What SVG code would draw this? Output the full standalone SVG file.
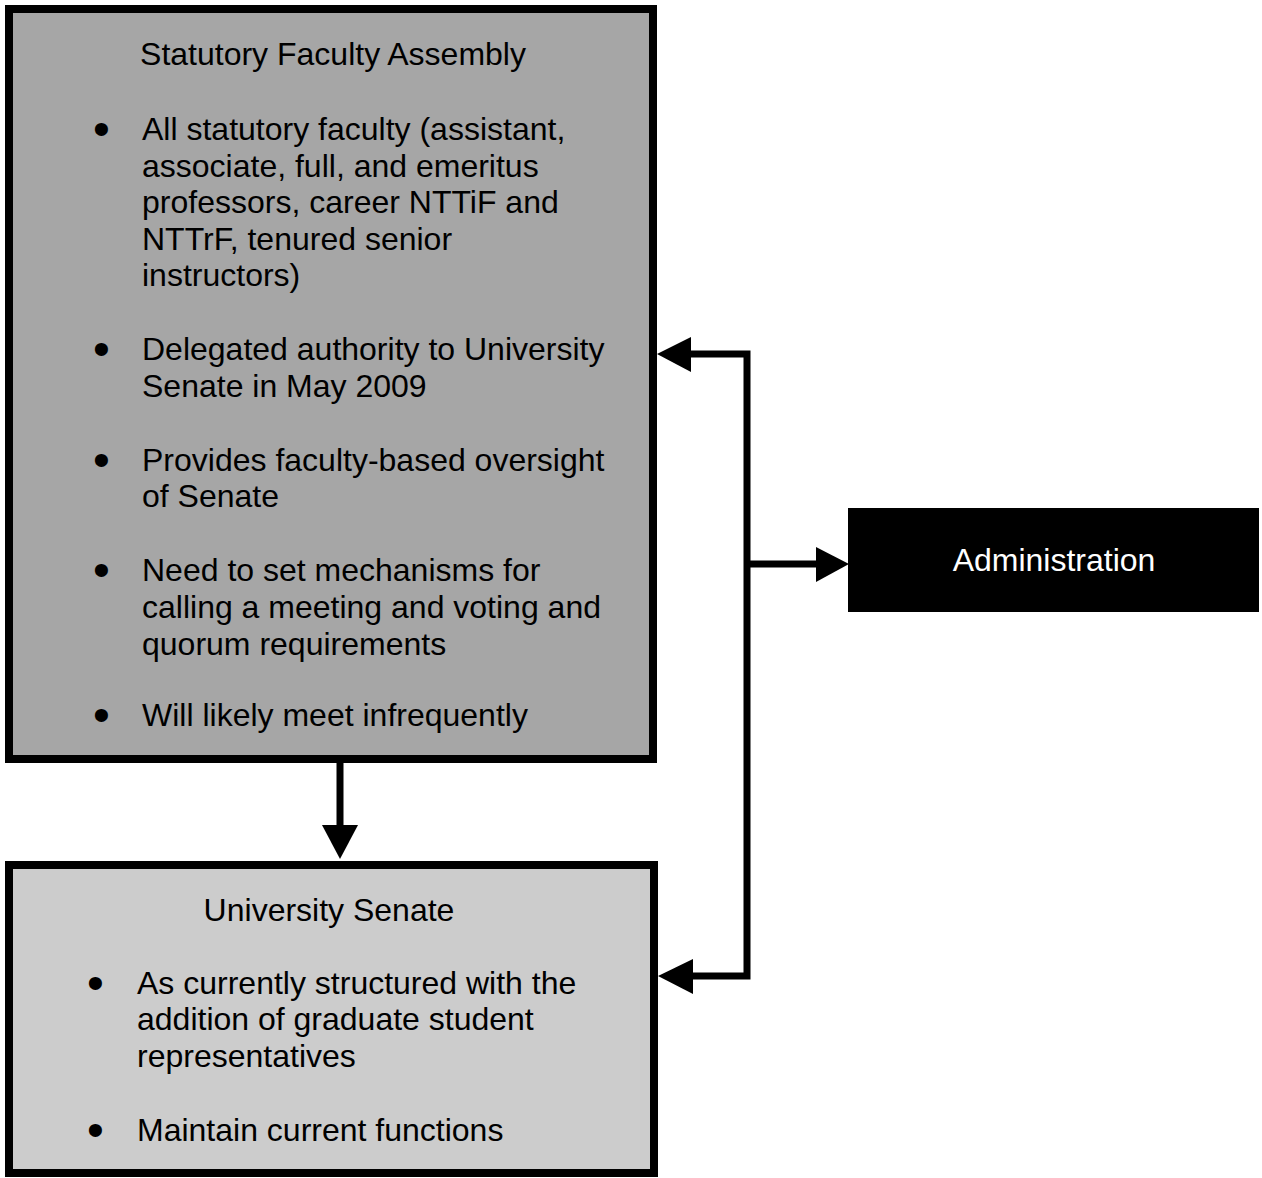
<svg xmlns="http://www.w3.org/2000/svg" width="1262" height="1178" viewBox="0 0 1262 1178">
<style>
text{font-family:"Liberation Sans",Arial,sans-serif;font-size:32px;fill:#000}
text.b{font-size:48px}
.box{stroke:#000;stroke-width:8}
.conn{fill:none;stroke:#000;stroke-width:7;stroke-linejoin:miter}
.head{fill:#000}
</style>
<rect width="1262" height="1178" fill="#fff"/>
<g id="assembly">
<rect class="box" x="9" y="9" width="644" height="750" fill="#a6a6a6"/>
<text x="333" y="65" text-anchor="middle">Statutory Faculty Assembly</text>
<text class="b" x="93" y="145">•</text>
<text x="142" y="140">All statutory faculty (assistant,</text>
<text x="142" y="177">associate, full, and emeritus</text>
<text x="142" y="213">professors, career NTTiF and</text>
<text x="142" y="250">NTTrF, tenured senior</text>
<text x="142" y="286">instructors)</text>
<text class="b" x="93" y="365">•</text>
<text x="142" y="360">Delegated authority to University</text>
<text x="142" y="397">Senate in May 2009</text>
<text class="b" x="93" y="476">•</text>
<text x="142" y="471">Provides faculty-based oversight</text>
<text x="142" y="507">of Senate</text>
<text class="b" x="93" y="586">•</text>
<text x="142" y="581">Need to set mechanisms for</text>
<text x="142" y="618">calling a meeting and voting and</text>
<text x="142" y="655">quorum requirements</text>
<text class="b" x="93" y="731">•</text>
<text x="142" y="726">Will likely meet infrequently</text>
</g>
<g id="senate">
<rect class="box" x="9" y="865" width="645" height="308" fill="#cccccc"/>
<text x="329" y="921" text-anchor="middle">University Senate</text>
<text class="b" x="87" y="999">•</text>
<text x="137" y="994">As currently structured with the</text>
<text x="137" y="1030">addition of graduate student</text>
<text x="137" y="1067">representatives</text>
<text class="b" x="87" y="1146">•</text>
<text x="137" y="1141">Maintain current functions</text>
</g>
<g id="administration">
<rect x="848" y="508" width="411" height="104" fill="#000"/>
<text x="1054" y="571" text-anchor="middle" style="fill:#fff">Administration</text>
</g>
<g id="connectors">
<line class="conn" x1="340" y1="763" x2="340" y2="828"/>
<polygon class="head" points="322,825 358,825 340,859"/>
<polyline class="conn" points="690,354 747,354 747,976 690,976"/>
<polygon class="head" points="691,337 691,372 657,354"/>
<polygon class="head" points="693,959 693,994 658,976"/>
<line class="conn" x1="747" y1="564" x2="818" y2="564"/>
<polygon class="head" points="816,547 816,582 849,564"/>
</g>
</svg>
